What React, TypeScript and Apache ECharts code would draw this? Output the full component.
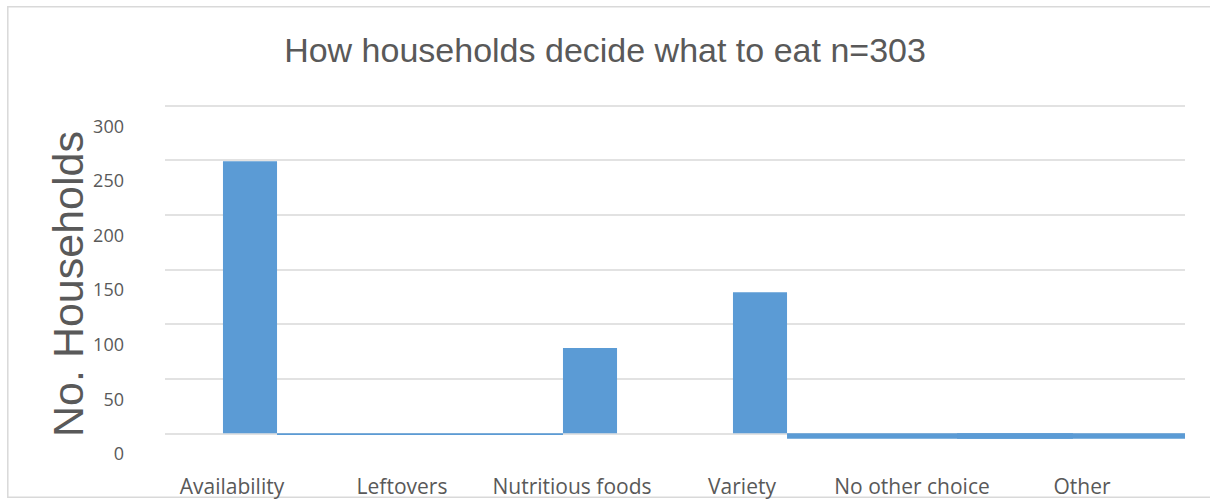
import React, { useEffect, useRef } from "react";
import * as echarts from "echarts";

const categories = ["Availability", "Leftovers", "Nutritious foods", "Variety", "No other choice", "Other"];
const mainValues: (number | null)[] = [249, null, 78, 129, null, null];
const smallValues: (number | null)[] = [null, -1.5, null, null, -5, -5];
const yTicks = { min: 0, max: 300, interval: 50 };
const titleText = "How households decide what to eat n=303";
const yAxisName = "No. Households";

const BAR_COLOR = "#5b9bd5";
const BAR_RATIO = 0.318;

export default function App() {
  const ref = useRef<HTMLDivElement>(null);
  useEffect(() => {
    document.body.style.margin = "0";
    const chart = echarts.init(ref.current!, null, { renderer: "svg" });
    const smallData = smallValues
      .map((v, i) => (v === null ? null : [i, v]))
      .filter((d) => d !== null);
    chart.setOption({
      animation: false,
      backgroundColor: "#ffffff",
      title: {
        text: titleText,
        left: "center",
        top: 28,
        textStyle: { fontFamily: "Liberation Sans", fontSize: 34, fontWeight: "normal", color: "#595959" },
      },
      grid: { left: 165, right: 25, top: 105.5, bottom: 65.7 },
      xAxis: {
        type: "category",
        data: categories,
        axisLine: { show: false },
        axisTick: { show: false },
        axisLabel: {
          interval: 0,
          margin: 42,
          fontFamily: "Open Sans",
          fontSize: 21,
          lineHeight: 22,
          color: "#595959",
          padding: [0, 36, 0, 0],
        },
      },
      yAxis: {
        type: "value",
        min: yTicks.min,
        max: yTicks.max,
        interval: yTicks.interval,
        axisLine: { show: false },
        axisTick: { show: false },
        splitLine: { lineStyle: { color: "#d9d9d9", width: 1.6 } },
        axisLabel: {
          margin: 41,
          fontFamily: "Open Sans",
          fontSize: 18,
          color: "#595959",
          verticalAlign: "top",
          lineHeight: 40,
        },
      },
      graphic: [
        {
          type: "rect",
          shape: { x: 7.8, y: 6.7, width: 1260, height: 490.5 },
          style: { fill: "none", stroke: "#d9d9d9", lineWidth: 1.5 },
          silent: true,
        },
        {
          type: "text",
          x: 68,
          y: 284,
          rotation: Math.PI / 2,
          style: {
            text: yAxisName,
            fontFamily: "Liberation Sans",
            fontSize: 43,
            fill: "#595959",
            align: "center",
            verticalAlign: "middle",
          },
        },
      ],
      series: [
        {
          type: "bar",
          data: mainValues,
          barWidth: (BAR_RATIO * 100).toFixed(1) + "%",
          itemStyle: { color: BAR_COLOR },
        },
        {
          type: "custom",
          data: smallData,
          encode: { x: 0, y: 1 },
          renderItem: (params: any, api: any) => {
            const idx = api.value(0);
            const v = api.value(1);
            const base = api.coord([idx, 0]);
            const end = api.coord([idx, v]);
            const cat = api.size([1, 0])[0];
            const w = 2 * cat - cat * BAR_RATIO;
            const cs = params.coordSys;
            const x0 = Math.max(base[0] - w / 2, cs.x);
            const x1 = Math.min(base[0] + w / 2, cs.x + cs.width);
            const y0 = Math.min(base[1], end[1]);
            const h = Math.abs(end[1] - base[1]);
            return {
              type: "rect",
              shape: { x: x0, y: y0, width: x1 - x0, height: h },
              style: { fill: BAR_COLOR },
            };
          },
        },
      ],
    });
    return () => chart.dispose();
  }, []);
  return <div ref={ref} style={{ width: 1210, height: 499 }} />;
}
